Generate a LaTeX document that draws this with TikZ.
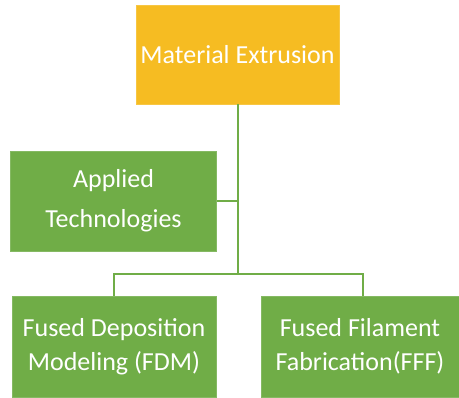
\documentclass[tikz,border=0pt]{standalone}
\usepackage{fontspec}
\setmainfont{Carlito}
\definecolor{gold}{HTML}{F6BC22}
\definecolor{leaf}{HTML}{70AD47}
\begin{document}
\begin{tikzpicture}[x=1pt,y=1pt,
  box/.style={fill=#1,draw=#1!85!white,line width=0.6pt,text=white,align=center,font=\fontsize{26}{34}\selectfont,inner sep=0pt},
  link/.style={draw=leaf,line width=2pt}]
\useasboundingbox (0,0) rectangle (459,398);
\node[box=gold,minimum width=203,minimum height=99] (top) at (237.5,343.5) {Material Extrusion};
\node[box=leaf,minimum width=206,minimum height=100,font=\fontsize{26}{40}\selectfont] (app) at (113.5,197) {Applied\\Technologies};
\node[box=leaf,minimum width=204,minimum height=101] (fdm) at (114,51.5) {Fused Deposition\\Modeling (FDM)};
\node[box=leaf,minimum width=198,minimum height=101] (fff) at (360,51.5) {Fused Filament\\Fabrication(FFF)};
\coordinate (j) at (top.south |- 0,124);
\coordinate (m) at (top.south |- app.east);
\coordinate (r) at ([xshift=3pt]fff.north);
\draw[link] (top.south) -- (j);
\draw[link] (app.east) -- (m);
\draw[link] (fdm.north) -- (fdm.north |- j) -- (r |- j) -- (r);
\end{tikzpicture}
\end{document}
